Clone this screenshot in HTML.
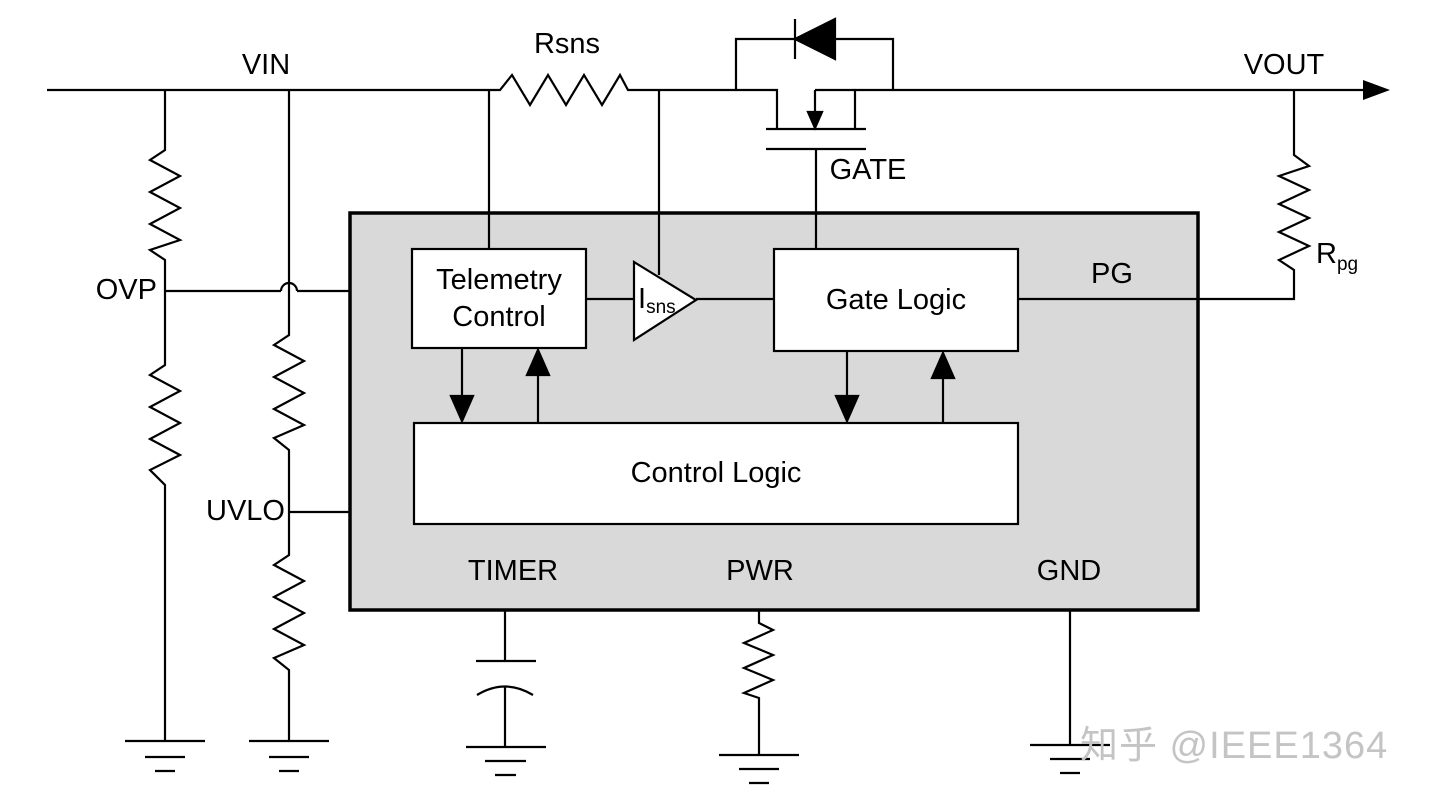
<!DOCTYPE html>
<html><head><style>body{margin:0;background:#fff}svg{display:block}text{font-family:"Liberation Sans","Noto Sans CJK SC",sans-serif;fill:#000}</style></head><body>
<svg width="1440" height="803" viewBox="0 0 1440 803" xmlns="http://www.w3.org/2000/svg">
<g stroke="#000" stroke-width="2.2" fill="none">
<rect x="350" y="213" width="848" height="397" fill="#d9d9d9" stroke-width="3.5"/>
<rect x="412" y="249" width="174" height="99" fill="#fff"/>
<rect x="774" y="249" width="244" height="102" fill="#fff"/>
<rect x="414" y="423" width="604" height="101" fill="#fff"/>
<polyline points="47,90 500,90 512,75 530,105 548,75 566,105 584,75 602,105 620,75 628,90 777,90 777,129"/>
<polyline points="855,129 855,90 1370,90"/>
<polyline points="815,90 855,90"/>
<polyline points="815,90 815,114"/>
<polygon points="808,112 822,112 815,128" fill="#000"/>
<line x1="766" y1="129" x2="866" y2="129"/>
<line x1="766" y1="149" x2="866" y2="149"/>
<line x1="816" y1="149" x2="816" y2="249"/>
<polyline points="736,90 736,39 893,39 893,90"/>
<polygon points="795,39 835,19 835,59" fill="#000"/>
<line x1="795" y1="19" x2="795" y2="59"/>
<polygon points="1363,80 1390,90 1363,100" fill="#000" stroke="none"/>
<polyline points="165,90 165,150 150,160 180,176 150,192 180,208 150,224 180,240 150,250 165,260 165,365 150,375 180,391 150,407 180,423 150,439 180,455 150,470 165,485 165,741"/>
<polyline points="165,291 281,291"/>
<path d="M281,291 A8,8 0 0 1 297,291"/>
<polyline points="297,291 350,291"/>
<polyline points="289,90 289,335 274,345 304,361 274,377 304,393 274,409 304,425 274,438 289,450 289,555 274,565 304,581 274,597 304,613 274,629 304,645 274,658 289,670 289,741"/>
<line x1="289" y1="512" x2="350" y2="512"/>
<line x1="125" y1="741" x2="205" y2="741"/><line x1="145" y1="757" x2="185" y2="757"/><line x1="155" y1="771" x2="175" y2="771"/>
<line x1="249" y1="741" x2="329" y2="741"/><line x1="269" y1="757" x2="309" y2="757"/><line x1="279" y1="771" x2="299" y2="771"/>
<line x1="489" y1="90" x2="489" y2="249"/>
<line x1="586" y1="299" x2="634" y2="299"/>
<polygon points="634,262 634,340 696,300" fill="#fff"/>
<line x1="659" y1="90" x2="659" y2="275"/>
<line x1="696" y1="299" x2="774" y2="299"/>
<polyline points="1018,299 1294,299 1294,270 1279,260 1309,246 1279,232 1309,218 1279,204 1309,190 1279,176 1309,166 1294,155 1294,90"/>
<line x1="462" y1="348" x2="462" y2="398"/><polygon points="451,396 473,396 462,421" fill="#000"/>
<line x1="538" y1="423" x2="538" y2="373"/><polygon points="527,375 549,375 538,350" fill="#000"/>
<line x1="847" y1="351" x2="847" y2="398"/><polygon points="836,396 858,396 847,421" fill="#000"/>
<line x1="943" y1="423" x2="943" y2="376"/><polygon points="932,378 954,378 943,353" fill="#000"/>
<line x1="505" y1="610" x2="505" y2="661"/><line x1="476" y1="661" x2="536" y2="661"/>
<path d="M477,695 Q505,678 533,695"/>
<line x1="505" y1="686" x2="505" y2="747"/>
<line x1="466" y1="747" x2="546" y2="747"/><line x1="485" y1="761" x2="526" y2="761"/><line x1="495" y1="775" x2="516" y2="775"/>
<polyline points="759,610 759,623 773,630 744,643 773,655 744,668 773,680 744,693 759,698 759,755"/>
<line x1="719" y1="755" x2="799" y2="755"/><line x1="739" y1="769" x2="779" y2="769"/><line x1="749" y1="783" x2="769" y2="783"/>
<line x1="1070" y1="610" x2="1070" y2="745"/>
<line x1="1030" y1="745" x2="1110" y2="745"/><line x1="1050" y1="759" x2="1090" y2="759"/><line x1="1060" y1="773" x2="1080" y2="773"/>
</g>
<g font-size="29">
<text x="266" y="74" text-anchor="middle">VIN</text>
<text x="567" y="53" text-anchor="middle">Rsns</text>
<text x="1284" y="74" text-anchor="middle">VOUT</text>
<text x="868" y="179" text-anchor="middle">GATE</text>
<text x="157" y="299" text-anchor="end">OVP</text>
<text x="285" y="520" text-anchor="end">UVLO</text>
<text x="499" y="289" text-anchor="middle">Telemetry</text>
<text x="499" y="326" text-anchor="middle">Control</text>
<text x="896" y="309" text-anchor="middle">Gate Logic</text>
<text x="716" y="482" text-anchor="middle">Control Logic</text>
<text x="1112" y="283" text-anchor="middle">PG</text>
<text x="513" y="580" text-anchor="middle">TIMER</text>
<text x="760" y="580" text-anchor="middle">PWR</text>
<text x="1069" y="580" text-anchor="middle">GND</text>
<text x="1316" y="263">R<tspan font-size="19" dy="7">pg</tspan></text>
<text x="638" y="308">I<tspan font-size="19" dy="5">sns</tspan></text>
</g>
<text x="1080" y="758" font-size="38" letter-spacing="1" style="fill:#c4c4c4">知乎 @IEEE1364</text>
</svg>
</body></html>
